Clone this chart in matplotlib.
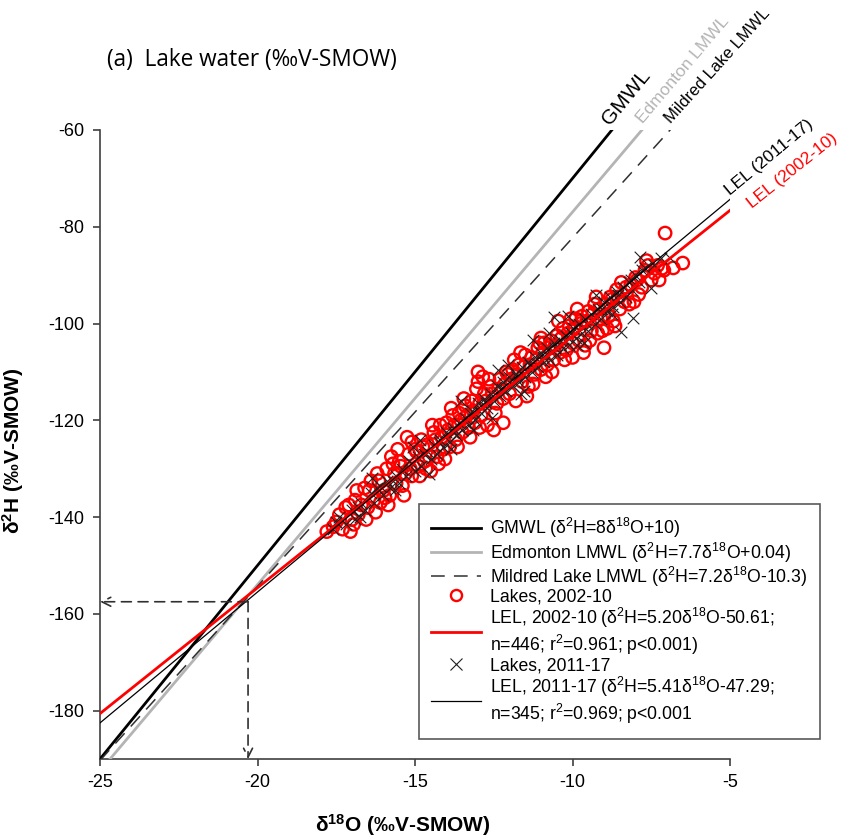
import numpy as np
import matplotlib
matplotlib.use("Agg")
import matplotlib.pyplot as plt
from matplotlib.lines import Line2D

plt.rcParams['font.family'] = ['Liberation Sans', 'DejaVu Sans']
plt.rcParams['mathtext.fontset'] = 'custom'
plt.rcParams['mathtext.rm'] = 'Liberation Sans'
plt.rcParams['mathtext.it'] = 'Liberation Sans:italic'
plt.rcParams['mathtext.bf'] = 'Liberation Sans:bold'
plt.rcParams['axes.unicode_minus'] = False

# ---------------- data ----------------
# Meteoric water lines: (slope, intercept)
gmwl = (8.0, 10.0)
edmonton = (7.7, 0.04)
mildred = (7.2, -10.3)
lel_0210 = (5.20, -50.61)
lel_1117 = (5.41, -47.29)
line_x = [-25.0, -5.0]

# Intersection read-off (dashed arrows)
cross_pt = (-20.3, -157.5)

# Lakes 2002-10 (red circles)
lakes0210_x = [
    -17.8, -17.5, -17.3, -17.2, -17.0, -16.9, -16.8, -16.6, -16.5, -16.4, -16.3, -16.2,
    -16.1, -16.0, -15.9, -15.8, -15.7, -15.6, -15.5, -15.4, -15.3, -15.2, -15.1, -15.0,
    -14.9, -14.8, -15.25, -15.1, -14.7, -14.6, -14.5, -14.4, -14.3, -14.2, -14.1, -14.0,
    -13.9, -13.8, -13.7, -13.6, -13.5, -13.4, -13.3, -13.2, -13.1, -13.0, -13.0, -12.9,
    -12.8, -12.7, -12.6, -12.5, -12.2, -12.4, -12.3, -12.2, -12.1, -12.0, -11.9, -11.8,
    -11.7, -11.6, -11.5, -11.4, -11.3, -11.2, -11.1, -11.0, -10.9, -10.8, -10.7, -10.6,
    -10.5, -10.4, -10.3, -10.2, -10.1, -10.0, -9.9, -9.8, -9.7, -9.6, -9.5, -9.4,
    -9.3, -9.2, -9.1, -9.0, -9.0, -8.9, -8.8, -8.7, -8.6, -8.5, -8.3, -8.2,
    -8.0, -7.9, -7.7, -7.5, -7.3, -7.1, -7.06, -7.4, -7.16, -6.5,
    -17.6, -17.1, -16.7, -16.45, -16.15, -15.95, -15.65, -15.45, -15.15, -14.95, -14.75, -14.55,
    -14.35, -14.15, -13.95, -13.75, -13.55, -13.35, -13.15, -12.95, -12.75, -12.55, -12.35, -12.15,
    -11.95, -11.75, -11.55, -11.35, -11.15, -10.95, -10.75, -10.55, -10.35, -10.15, -9.95, -9.75,
    -9.55, -9.35, -9.15, -8.95, -8.75, -8.55, -8.35, -8.15, -7.95, -7.8, -7.6, -13.05,
    -12.85, -11.05, -10.45, -9.85, -14.25, -13.65, -11.25, -10.25, -9.45, -8.65, -16.55, -15.85,
    -17.4, -16.95, -16.25, -15.75, -15.35, -14.85, -14.45, -14.05, -13.45, -13.25, -12.65, -12.45,
    -11.85, -11.45, -11.0, -10.65, -10.05, -9.65, -9.25, -8.85, -8.45, -8.05, -7.65, -7.25,
    -6.8, -15.55, -14.65, -13.85, -12.95, -12.05, -11.65, -10.85, -10.0, -9.05, -16.85, -17.05,
]
lakes0210_y = [
    -143.0, -141.0, -142.5, -138.0, -140.5, -136.5, -139.5, -134.0, -138.0, -132.5, -136.5, -131.0,
    -137.0, -134.5, -130.0, -135.5, -129.0, -133.0, -128.5, -133.5, -131.0, -127.0, -131.5, -126.0,
    -129.5, -124.0, -123.5, -124.5, -128.5, -125.0, -130.5, -122.5, -127.5, -121.0, -126.0, -120.5,
    -125.5, -119.0, -124.0, -118.5, -122.5, -117.0, -121.5, -116.0, -120.5, -110.0, -112.0, -119.0,
    -114.5, -121.0, -113.0, -122.0, -120.5, -116.5, -111.5, -115.5, -110.0, -114.5, -109.5, -116.0,
    -108.5, -112.0, -106.5, -113.0, -107.0, -110.5, -105.0, -109.5, -104.0, -108.5, -103.5, -107.5,
    -102.5, -106.0, -101.0, -105.5, -100.5, -104.0, -99.0, -103.5, -98.5, -104.5, -97.5, -101.5,
    -96.0, -102.0, -99.0, -105.0, -98.5, -101.0, -94.5, -99.5, -93.0, -97.0, -92.5, -96.0,
    -90.5, -94.0, -89.0, -91.0, -88.0, -89.0, -81.3, -89.6, -88.6, -87.5,
    -142.0, -137.5, -137.5, -134.5, -132.5, -136.0, -131.0, -129.5, -130.0, -126.5, -125.5, -127.5,
    -124.0, -123.5, -122.0, -121.0, -120.0, -119.0, -118.0, -116.5, -116.0, -114.5, -113.5, -112.5,
    -111.5, -110.5, -109.0, -108.5, -107.5, -106.0, -105.0, -104.5, -103.0, -102.0, -101.0, -100.0,
    -99.5, -98.0, -97.0, -96.0, -95.0, -94.5, -95.5, -92.0, -91.0, -92.5, -88.0, -113.5,
    -111.0, -104.0, -99.5, -97.0, -129.0, -125.5, -112.5, -107.5, -103.5, -100.5, -140.5, -137.5,
    -139.5, -141.5, -139.0, -127.5, -135.5, -131.5, -121.0, -128.0, -115.5, -123.5, -111.5, -118.5,
    -107.5, -115.0, -103.0, -110.0, -99.0, -106.0, -94.5, -98.5, -91.5, -95.5, -87.0, -91.0,
    -88.5, -126.0, -130.0, -117.5, -121.5, -110.5, -106.0, -111.0, -107.0, -101.5, -134.5, -143.0,
]

# Lakes 2011-17 (black crosses)
lakes1117_x = [
    -17.6, -17.4, -17.2, -17.0, -16.9, -16.7, -16.6, -16.4, -16.3, -16.2, -16.0, -15.9,
    -15.8, -15.6, -15.5, -15.4, -15.3, -15.1, -15.0, -14.9, -14.8, -14.6, -14.5, -14.4,
    -14.3, -14.2, -14.1, -14.0, -13.9, -13.8, -13.7, -13.6, -13.5, -13.4, -13.3, -13.2,
    -13.1, -13.0, -12.9, -12.8, -12.7, -12.6, -12.5, -12.4, -12.3, -12.2, -12.1, -12.0,
    -11.9, -11.8, -11.7, -11.6, -11.5, -11.4, -11.3, -11.2, -11.1, -11.0, -10.9, -10.8,
    -10.7, -10.6, -10.5, -10.4, -10.3, -10.2, -10.1, -10.0, -9.9, -9.8, -9.7, -9.6,
    -9.5, -9.4, -9.3, -9.2, -9.1, -9.0, -8.9, -8.8, -8.7, -8.6, -8.5, -8.4,
    -8.3, -8.2, -8.1, -8.0, -8.07, -8.45, -7.9, -7.8, -7.5, -7.4, -7.2, -6.9,
    -12.55, -13.55, -15.05, -16.35, -11.25, -10.15, -9.65, -12.05, -14.55, -16.75, -11.65, -13.85,
    -10.6, -7.86,
    -17.5, -16.8, -16.1, -15.7, -15.2, -14.7, -14.25, -13.75, -13.25, -12.75, -12.25, -11.75,
    -11.35, -10.95, -10.55, -10.05, -9.55, -9.05, -8.55, -8.15, -7.7, -13.15, -12.35, -11.55,
    -10.75, -9.85, -9.25, -8.75, -14.85, -15.65,
]
lakes1117_y = [
    -142.5, -140.0, -141.5, -138.5, -140.5, -137.0, -138.5, -135.0, -137.0, -134.0, -135.5, -132.5,
    -134.0, -131.5, -133.0, -130.0, -131.5, -129.0, -130.5, -127.5, -129.5, -126.5, -128.0, -125.0,
    -127.0, -124.0, -125.5, -122.5, -124.5, -121.5, -123.0, -120.5, -122.0, -119.5, -121.0, -118.0,
    -120.0, -116.5, -118.5, -115.5, -117.5, -114.5, -116.0, -113.0, -115.0, -112.0, -114.0, -111.0,
    -113.0, -110.5, -112.0, -109.0, -111.0, -108.0, -110.0, -107.0, -109.0, -106.0, -108.0, -105.0,
    -107.5, -104.0, -106.5, -103.5, -105.0, -102.5, -104.5, -101.0, -103.0, -100.0, -102.0, -99.0,
    -101.5, -98.0, -100.0, -97.0, -99.0, -95.5, -97.5, -94.5, -96.5, -93.5, -95.5, -92.5,
    -94.5, -91.5, -93.0, -90.0, -98.9, -101.8, -91.5, -89.0, -92.7, -88.0, -86.5, -86.5,
    -119.5, -116.0, -125.5, -132.0, -103.5, -98.5, -104.0, -108.5, -131.0, -140.0, -114.5, -126.0,
    -98.7, -86.3,
    -141.0, -138.0, -133.5, -132.5, -128.5, -127.0, -124.5, -122.5, -118.5, -116.5, -113.5, -111.0,
    -108.5, -107.0, -105.0, -102.0, -100.0, -97.0, -94.0, -91.0, -88.5, -122.0, -109.5, -114.0,
    -102.0, -104.5, -94.0, -98.0, -124.0, -134.5,
]

legend_labels = [
    'GMWL (δ$^2$H=8δ$^{18}$O+10)',
    'Edmonton LMWL (δ$^2$H=7.7δ$^{18}$O+0.04)',
    'Mildred Lake LMWL (δ$^2$H=7.2δ$^{18}$O-10.3)',
    'Lakes, 2002-10',
    'LEL, 2002-10 (δ$^2$H=5.20δ$^{18}$O-50.61;\nn=446; r$^2$=0.961; p<0.001)',
    'Lakes, 2011-17',
    'LEL, 2011-17 (δ$^2$H=5.41δ$^{18}$O-47.29;\nn=345; r$^2$=0.969; p<0.001',
]

# ---------------- figure ----------------
fig = plt.figure(figsize=(8.41, 8.39), dpi=100)
ax = fig.add_axes([100/841, 1-759/839, 630/841, 629/839])
ax.set_xlim(-25, -5)
ax.set_ylim(-190, -60)

lx = np.array(line_x)
def yline(p):
    return p[0]*lx + p[1]

ax.plot(lx, yline(gmwl), color='black', lw=2.0, zorder=3)
ax.plot(lx, yline(edmonton), color='#b4b4b4', lw=2.0, zorder=3)
ax.plot(lx, yline(mildred), color='#303030', lw=1.1, dashes=(9, 6), zorder=3)

ax.scatter(lakes0210_x, lakes0210_y, s=80, facecolors='none', edgecolors='red',
           linewidths=1.7, zorder=4)
ax.scatter(lakes1117_x, lakes1117_y, s=70, marker='x', color='#202020',
           linewidths=0.8, zorder=5)

ax.plot(lx, yline(lel_0210), color='red', lw=2.0, zorder=6)
ax.plot(lx, yline(lel_1117), color='black', lw=0.9, zorder=6)

# dashed read-off arrows
apr = dict(arrowstyle='->', linestyle=(0, (6, 4)), color='#303030', lw=1.2,
           shrinkA=0, shrinkB=0, mutation_scale=16)
ax.annotate('', xy=(-25, cross_pt[1]), xytext=cross_pt, arrowprops=apr, zorder=7)
ax.annotate('', xy=(cross_pt[0], -190), xytext=cross_pt, arrowprops=apr, zorder=7)

# line labels
def ang(p):
    return np.degrees(np.arctan(p[0]))

def lab(x, p, txt, color, fs):
    ax.text(x, p[0]*x + p[1], txt, color=color, fontsize=fs, ha='left', va='bottom',
            rotation=ang(p), rotation_mode='anchor', transform_rotates_text=True,
            clip_on=False)

lab(-8.7, gmwl, 'GMWL', 'black', 15)
lab(-7.7, edmonton, 'Edmonton LMWL', '#b4b4b4', 12.5)
lab(-6.8, mildred, 'Mildred Lake LMWL', 'black', 12)
lab(-4.95, lel_1117, 'LEL (2011-17)', 'black', 12.5)
ax.text(-4.55, lel_0210[0]*-4.55 + lel_0210[1], 'LEL (2002-10)', color='red', fontsize=12.5,
        ha='left', va='top', rotation=ang(lel_0210), rotation_mode='anchor',
        transform_rotates_text=True, clip_on=False)

# axes styling
for s in ['top', 'right']:
    ax.spines[s].set_visible(False)
for s in ['left', 'bottom']:
    ax.spines[s].set_color('#404040')
    ax.spines[s].set_linewidth(1.2)
ax.set_xticks([-25, -20, -15, -10, -5])
ax.set_yticks([-180, -160, -140, -120, -100, -80, -60])
ax.tick_params(direction='out', length=5, width=1.2, color='#404040',
               labelsize=13, pad=6)

ax.set_xlabel('δ$\\mathbf{^{18}}$O (‰V-SMOW)', fontsize=15, fontweight='bold')
ax.xaxis.set_label_coords(0.48, -0.085)
ax.set_ylabel('δ$\\mathbf{^{2}}$H (‰V-SMOW)', fontsize=15, fontweight='bold')
ax.yaxis.set_label_coords(-0.118, 0.49)

fig.text(107/841, 1-60/839, '(a)  Lake water (‰V-SMOW)', fontsize=16.3,
         family=['Open Sans', 'DejaVu Sans'], ha='left', va='center')

handles = [
    Line2D([], [], color='black', lw=2.0),
    Line2D([], [], color='#b4b4b4', lw=2.0),
    Line2D([], [], color='#303030', lw=1.1, dashes=(9, 6)),
    Line2D([], [], ls='none', marker='o', mfc='none', mec='red', mew=1.7, ms=8),
    Line2D([], [], color='red', lw=2.0),
    Line2D([], [], ls='none', marker='x', color='#202020', mew=0.8, ms=8),
    Line2D([], [], color='black', lw=0.9),
]
leg = fig.legend(handles, legend_labels, loc='upper left',
                 bbox_to_anchor=(419/841, 1-504/839), bbox_transform=fig.transFigure,
                 fontsize=12.7, frameon=True, fancybox=False, edgecolor='#303030',
                 handlelength=2.8, handletextpad=0.55, labelspacing=0.0,
                 borderpad=0.7, borderaxespad=0)
leg.get_frame().set_linewidth(1.2)

fig.savefig('out.png', dpi=100, facecolor='white')
